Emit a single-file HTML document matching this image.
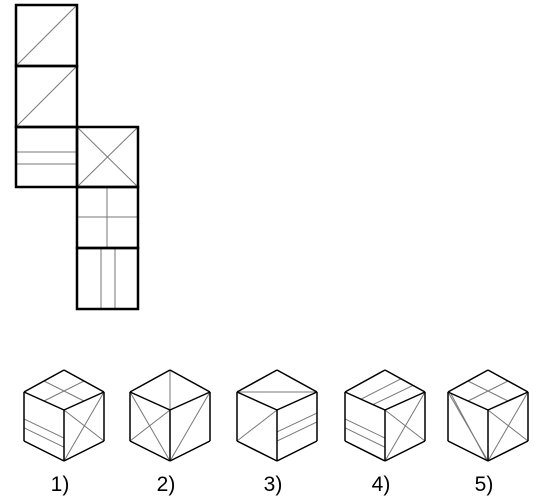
<!DOCTYPE html>
<html><head><meta charset="utf-8"><style>
html,body{margin:0;padding:0;background:#fff;}
svg{display:block;}
text{font-family:"Liberation Sans",Arial,sans-serif;font-size:21px;fill:#000;}
</style></head><body>
<svg width="541" height="500" viewBox="0 0 541 500">
<g fill="none">
  <g stroke="#777" stroke-width="1">
    <line x1="16" y1="66" x2="77" y2="5"/>
    <line x1="16" y1="127" x2="77" y2="66"/>
    <line x1="16" y1="152" x2="77" y2="152"/>
    <line x1="16" y1="164" x2="77" y2="164"/>
    <line x1="77" y1="127" x2="138" y2="187"/>
    <line x1="138" y1="127" x2="77" y2="187"/>
    <line x1="107" y1="187" x2="107" y2="248"/>
    <line x1="77" y1="217" x2="138" y2="217"/>
    <line x1="101" y1="248" x2="101" y2="309"/>
    <line x1="115" y1="248" x2="115" y2="309"/>
  </g>
  <g stroke="#000" stroke-width="2.5">
    <rect x="16" y="5" width="61" height="61"/>
    <rect x="16" y="66" width="61" height="61"/>
    <rect x="16" y="127" width="61" height="60"/>
    <rect x="77" y="127" width="61" height="60"/>
    <rect x="77" y="187" width="61" height="61"/>
    <rect x="77" y="248" width="61" height="61"/>
  </g>
</g>
<g id="cubes"></g>
</svg>
<script>
const cubeCenters=[64,170,277,385,488];
const labels=["1)","2)","3)","4)","5)"];
const NS="http://www.w3.org/2000/svg";
const root=document.getElementById('cubes');
function ln(g,a,b,gray,name){
  const l=document.createElementNS(NS,'line');
  l.setAttribute('x1',a[0]);l.setAttribute('y1',a[1]);l.setAttribute('x2',b[0]);l.setAttribute('y2',b[1]);
  l.setAttribute('stroke',gray?'#777':'#000');l.setAttribute('stroke-width',gray?1:1.5);
  
  
  g.appendChild(l);
}
function lerp(p,q,t){return [p[0]+(q[0]-p[0])*t,p[1]+(q[1]-p[1])*t];}
cubeCenters.forEach((cx,i)=>{
  const g=document.createElementNS(NS,'g');
  
  
  root.appendChild(g);
  const T=[cx,370],L=[cx-40,392],R=[cx+40,392],C=[cx,410],BL=[cx-40,441],BR=[cx+40,441],B=[cx,461];
  // markings
  if(i===0||i===4){ // top cross
    ln(g,lerp(L,T,.5),lerp(C,R,.5),1,'top-line');ln(g,lerp(T,R,.5),lerp(L,C,.5),1,'top-line');
  }
  if(i===0||i===3){ // left horizontal lines
    ln(g,lerp(L,BL,.55),lerp(C,B,.55),1,'left-line');ln(g,lerp(L,BL,.73),lerp(C,B,.73),1,'left-line');
  }
  if(i===0||i===3||i===4){ // right X
    ln(g,C,BR,1,'right-diag');ln(g,R,B,1,'right-diag');
  }
  if(i===1){
    ln(g,L,B,1,'left-diag');ln(g,C,BL,1,'left-diag');ln(g,T,C,1,'top-diag');ln(g,R,B,1,'right-diag');
  }
  if(i===2){
    ln(g,L,R,1,'top-diag');ln(g,C,BL,1,'left-diag');
    ln(g,lerp(C,B,.43),lerp(R,BR,.43),1,'right-line');ln(g,lerp(C,B,.61),lerp(R,BR,.61),1,'right-line');
  }
  if(i===3){
    ln(g,lerp(L,C,.4),lerp(T,R,.4),1,'top-line');ln(g,lerp(L,C,.7),lerp(T,R,.7),1,'top-line');
  }
  if(i===4){
    ln(g,L,B,1,'left-diag');ln(g,[cx-37,394],[cx-1,461],1,'left-diag');
  }
  // edges
  [[T,L],[T,R],[L,C],[R,C],[C,B],[L,BL],[R,BR],[BL,B],[BR,B]].forEach(e=>ln(g,e[0],e[1],0,'cube-edge'));
  const t=document.createElementNS(NS,'text');
  t.setAttribute('x',cx-4);t.setAttribute('y',491);t.setAttribute('text-anchor','middle');
  t.textContent=labels[i];
  
  
  g.appendChild(t);
});
</script>
</body></html>
